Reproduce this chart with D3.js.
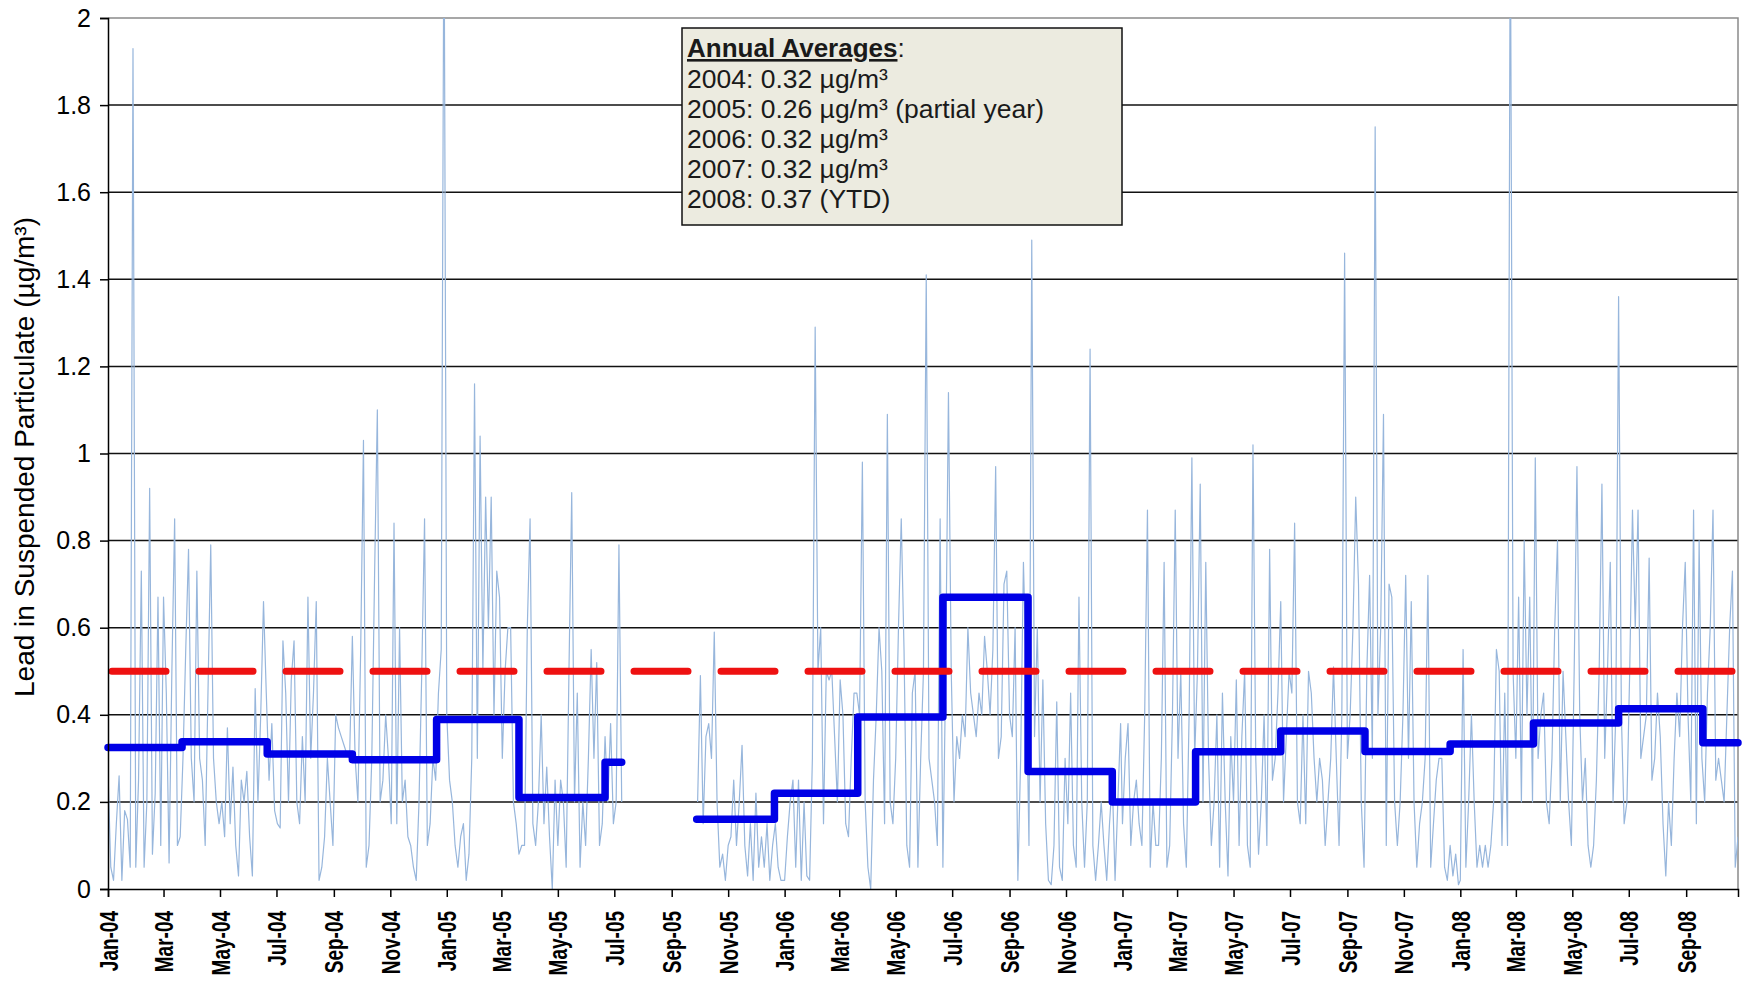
<!DOCTYPE html>
<html><head><meta charset="utf-8">
<script src="https://cdn.jsdelivr.net/npm/d3@7"></script>
<style>
body{margin:0;background:#fff;}
svg{display:block;}
text{font-family:"Liberation Sans",Arial,sans-serif;}
</style>
</head><body>
<svg id="chart" width="1745" height="1005"></svg>
<script>
// ---------------- DATA ----------------
// sampled lead concentrations (µg/m³), one value every SAMPLE_STEP_DAYS days from each block's start date
const SAMPLE_STEP_DAYS = 3;
const lead2004 = [
0.27,0.05,0.02,0.15,0.26,0.02,0.18,0.16,0.05,1.93,
0.05,0.25,0.73,0.05,0.2,0.92,0.08,0.22,0.67,0.1,
0.67,0.45,0.06,0.5,0.85,0.1,0.12,0.3,0.55,0.78,
0.3,0.2,0.73,0.3,0.25,0.1,0.45,0.79,0.3,0.2,
0.15,0.2,0.12,0.37,0.15,0.28,0.1,0.03,0.25,0.2,
0.27,0.12,0.03,0.46,0.2,0.4,0.66,0.45,0.25,0.38,
0.18,0.15,0.14,0.57,0.45,0.2,0.48,0.57,0.2,0.15,
0.35,0.2,0.67,0.3,0.45,0.66,0.02,0.05,0.12,0.3,
0.2,0.1,0.4,0.37,0.35,0.33,0.31,0.3,0.58,0.3,
0.2,0.55,1.03,0.05,0.1,0.3,0.72,1.1,0.2,0.25,
0.4,0.3,0.15,0.84,0.15,0.6,0.2,0.25,0.12,0.1,
0.05,0.02,0.2,0.5,0.85,0.1,0.15,0.3,0.25,0.45,
0.55,2.3];
const lead2005a = [
0.4,0.25,0.2,0.1,0.05,0.12,0.15,0.02,0.08,0.3,
1.16,0.3,1.04,0.5,0.9,0.6,0.9,0.4,0.73,0.67,
0.3,0.5,0.6,0.6,0.2,0.15,0.08,0.1,0.1,0.6,
0.85,0.15,0.1,0.2,0.4,0.15,0.28,0.12,0.0,0.25,
0.1,0.25,0.2,0.05,0.5,0.91,0.2,0.45,0.05,0.2,
0.1,0.3,0.55,0.3,0.52,0.1,0.15,0.35,0.2,0.38,
0.15,0.2,0.79,0.2];
const lead2005b = [
0.2,0.49,0.15,0.35,0.38,0.3,0.59,0.2,0.05,0.08,
0.02,0.1,0.12,0.25,0.1,0.2,0.33,0.1,0.03,0.15,
0.02,0.22,0.05,0.12,0.05,0.15,0.02,0.1,0.15,0.05,
0.02];
const lead2006 = [
0.02,0.12,0.2,0.25,0.05,0.25,0.02,0.2,0.03,0.02,
0.3,1.29,0.5,0.6,0.15,0.5,0.48,0.5,0.35,0.2,
0.48,0.4,0.15,0.12,0.3,0.45,0.45,0.4,0.98,0.2,
0.05,0.0,0.25,0.4,0.6,0.5,0.15,1.09,0.2,0.15,
0.3,0.6,0.85,0.55,0.1,0.05,0.45,0.5,0.05,0.3,
0.5,1.41,0.3,0.25,0.2,0.1,0.85,0.05,0.5,1.14,
0.5,0.2,0.35,0.3,0.4,0.35,0.6,0.45,0.4,0.35,
0.45,0.4,0.58,0.5,0.4,0.55,0.97,0.3,0.35,0.7,
0.73,0.4,0.35,0.6,0.02,0.3,0.75,0.5,0.1,1.49,
0.35,0.6,0.2,0.48,0.15,0.02,0.01,0.1,0.43,0.05,
0.02,0.3,0.15,0.45,0.1,0.05,0.67,0.2,0.05,0.2,
1.24,0.1,0.02,0.1,0.2,0.1,0.02,0.15,0.25,0.02,
0.2,0.38];
const lead2007 = [
0.15,0.3,0.38,0.1,0.2,0.25,0.15,0.1,0.4,0.87,
0.05,0.2,0.1,0.1,0.3,0.75,0.05,0.1,0.4,0.87,
0.3,0.5,0.15,0.05,0.4,0.99,0.3,0.5,0.93,0.2,
0.75,0.3,0.1,0.2,0.4,0.05,0.45,0.2,0.03,0.35,
0.2,0.48,0.1,0.35,0.5,0.1,0.05,1.02,0.3,0.08,
0.2,0.4,0.1,0.78,0.25,0.3,0.45,0.66,0.2,0.35,
0.5,0.45,0.84,0.2,0.15,0.4,0.15,0.5,0.45,0.3,
0.2,0.3,0.25,0.1,0.2,0.3,0.51,0.3,0.1,0.4,
1.46,0.3,0.4,0.6,0.9,0.7,0.2,0.05,0.5,0.72,
0.3,1.75,0.4,0.6,1.09,0.1,0.7,0.67,0.2,0.1,
0.2,0.4,0.72,0.3,0.66,0.2,0.05,0.15,0.2,0.3,
0.72,0.05,0.15,0.25,0.3,0.3,0.05,0.02,0.1,0.03,
0.08,0.01];
const lead2008 = [
0.02,0.55,0.05,0.2,0.4,0.2,0.05,0.1,0.05,0.1,
0.05,0.1,0.2,0.55,0.5,0.1,0.45,0.1,2.3,0.5,
0.3,0.67,0.2,0.8,0.4,0.67,0.2,0.99,0.3,0.4,
0.45,0.2,0.15,0.3,0.6,0.8,0.2,0.5,0.35,0.2,
0.1,0.5,0.97,0.4,0.2,0.3,0.1,0.05,0.1,0.25,
0.5,0.93,0.3,0.5,0.75,0.2,0.4,1.36,0.4,0.15,
0.2,0.5,0.87,0.6,0.87,0.3,0.35,0.4,0.76,0.25,
0.3,0.45,0.35,0.15,0.03,0.2,0.1,0.3,0.45,0.35,
0.6,0.75,0.4,0.2,0.87,0.15,0.8,0.3,0.2,0.45,
0.6,0.87,0.25,0.3,0.25,0.2,0.4,0.6,0.73,0.05,
0.12];
const blockStarts = ["2004-01-01","2005-01-01","2005-09-29","2006-01-01","2007-01-01","2008-01-01"];
const blockValues = [lead2004, lead2005a, lead2005b, lead2006, lead2007, lead2008];

// quarterly (seasonal) averages
const quarterStart = ["2004-01-01","2004-03-21","2004-06-21","2004-09-21","2004-12-21","2005-03-20","2005-06-21",
  "2005-09-28","2005-12-21","2006-03-21","2006-06-21","2006-09-21","2006-12-21","2007-03-21","2007-06-21",
  "2007-09-20","2007-12-21","2008-03-20","2008-06-20","2008-09-19"];
const quarterEnd = ["2004-03-21","2004-06-21","2004-09-21","2004-12-21","2005-03-20","2005-06-21","2005-07-09",
  "2005-12-21","2006-03-21","2006-06-21","2006-09-21","2006-12-21","2007-03-21","2007-06-21","2007-09-20",
  "2007-12-21","2008-03-20","2008-06-20","2008-09-19","2008-10-27"];
const quarterAvg = [0.325,0.338,0.31,0.297,0.389,0.21,0.291,0.16,0.22,0.395,0.67,0.27,0.20,0.315,0.363,
  0.316,0.333,0.381,0.414,0.336];

const standardValue = 0.5;
const yTicks = [0,0.2,0.4,0.6,0.8,1,1.2,1.4,1.6,1.8,2];
const xDomain = ["2004-01-01","2008-10-27"];
const yTitle = "Lead in Suspended Particulate (µg/m³)";
const legendTitle = "Annual Averages";
const legendLines = ["2004: 0.32 µg/m³","2005: 0.26 µg/m³ (partial year)","2006: 0.32 µg/m³","2007: 0.32 µg/m³","2008: 0.37 (YTD)"];

// ---------------- DRAW ----------------
const parse = d3.utcParse("%Y-%m-%d");
const L = 108, R = 1738, T = 18, B = 889;
const svg = d3.select("#chart");
const x = d3.scaleUtc().domain(xDomain.map(parse)).range([L, R]);
const y = d3.scaleLinear().domain([0, 2]).range([B, T]);

svg.append("defs").append("clipPath").attr("id","plotclip")
  .append("rect").attr("x", L).attr("y", T).attr("width", R - L).attr("height", B - T);

// gridlines
svg.append("g").selectAll("line").data(yTicks.filter(v => v > 0 && v < 2)).join("line")
  .attr("x1", L).attr("x2", R).attr("y1", d => y(d)).attr("y2", d => y(d))
  .attr("stroke", "#111").attr("stroke-width", 1.5);
// plot border top/right
svg.append("path").attr("d", `M${L},${y(2)}H${R}V${B}`).attr("fill","none")
  .attr("stroke","#8a8a8a").attr("stroke-width",1.5);

// daily series: build contiguous runs
const runs = [];
let current = [];
blockValues.forEach((vals, bi) => {
  const s = parse(blockStarts[bi]);
  const pts = vals.map((v, i) => ({date: d3.utcDay.offset(s, i * SAMPLE_STEP_DAYS), value: v}));
  if (current.length && (pts[0].date - current[current.length-1].date) > 6 * 864e5) {
    runs.push(current); current = [];
  }
  current = current.concat(pts);
});
runs.push(current);

const dailyLine = d3.line().x(d => x(d.date)).y(d => y(d.value));
svg.append("g").attr("clip-path","url(#plotclip)").selectAll("path").data(runs).join("path")
  .attr("d", dailyLine).attr("fill","none").attr("stroke","#97B6DC").attr("stroke-width",1.2)
  .attr("stroke-linejoin","round");

// quarterly step line
const stepRuns = [];
let sr = [];
quarterStart.forEach((s, i) => {
  const sd = parse(s), ed = parse(quarterEnd[i]);
  if (sr.length && +sr[sr.length-1].date !== +sd) { stepRuns.push(sr); sr = []; }
  sr.push({date: sd, value: quarterAvg[i]}, {date: ed, value: quarterAvg[i]});
});
stepRuns.push(sr);
svg.append("g").selectAll("path").data(stepRuns).join("path")
  .attr("d", dailyLine).attr("fill","none").attr("stroke","#0000E6").attr("stroke-width",7.5)
  .attr("stroke-linejoin","round").attr("stroke-linecap","round");

// standard dashed line
svg.append("line").attr("x1", L + 4).attr("x2", R - 2)
  .attr("y1", y(standardValue)).attr("y2", y(standardValue))
  .attr("stroke","#EE1111").attr("stroke-width",7).attr("stroke-linecap","round")
  .attr("stroke-dasharray","54,33");

// y axis
const yAxis = svg.append("g").attr("transform", `translate(${L},0)`)
  .call(d3.axisLeft(y).tickValues(yTicks).tickSize(8).tickPadding(9)
    .tickFormat(d => String(+d.toFixed(1))));
yAxis.select(".domain").attr("stroke","#000").attr("stroke-width",1.5);
yAxis.selectAll(".tick line").attr("stroke","#000").attr("stroke-width",1.5);
yAxis.selectAll("text").attr("font-size",25).attr("fill","#000")
  .style("font-family","'Liberation Sans',Arial,sans-serif");

// x axis
const xAxis = svg.append("g").attr("transform", `translate(0,${B})`)
  .call(d3.axisBottom(x).ticks(d3.utcMonth.every(2)).tickSize(8)
    .tickFormat(d3.utcFormat("%b-%y")));
xAxis.select(".domain").attr("stroke","#000").attr("stroke-width",1.5);
xAxis.selectAll(".tick line").attr("stroke","#000").attr("stroke-width",1.5);
xAxis.selectAll("text")
  .attr("font-size",25).attr("font-weight","bold").attr("fill","#000")
  .style("font-family","'Liberation Sans',Arial,sans-serif")
  .attr("text-anchor","end").attr("x",0).attr("y",0).attr("dy","0.36em")
  .attr("transform","rotate(-90) translate(-22,0) scale(0.76,1)");

// y title
svg.append("text").attr("transform","translate(24,457) rotate(-90)")
  .attr("text-anchor","middle").attr("dy","0.35em").attr("font-size",28).attr("fill","#000")
  .text(yTitle);

// legend box
const lg = svg.append("g");
lg.append("rect").attr("x",682).attr("y",28).attr("width",440).attr("height",197)
  .attr("fill","#ECEBE0").attr("stroke","#111").attr("stroke-width",1.5);
const t0 = lg.append("text").attr("x",687).attr("y",57).attr("font-size",26).attr("fill","#1a1a1a");
t0.append("tspan").attr("font-weight","bold").attr("text-decoration","underline").text(legendTitle);
t0.append("tspan").text(":");
lg.selectAll("text.line").data(legendLines).join("text").attr("class","line")
  .attr("x",687).attr("y",(d,i) => 88 + i * 30).attr("font-size",26.5).attr("fill","#1a1a1a")
  .text(d => d);
</script>
</body></html>
